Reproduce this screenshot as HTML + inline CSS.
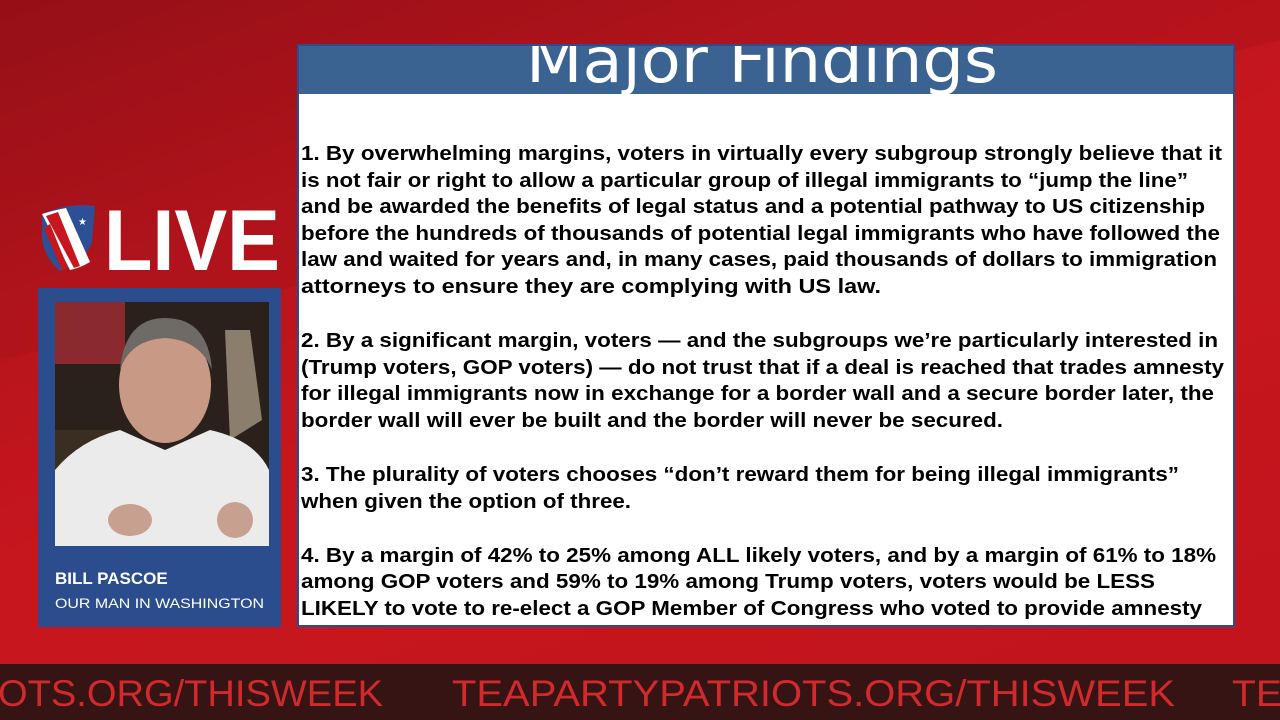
<!DOCTYPE html>
<html><head><meta charset="utf-8"><style>
html,body{margin:0;padding:0;width:1280px;height:720px;overflow:hidden;font-family:"Liberation Sans",sans-serif}
#bg{position:absolute;left:0;top:0;width:1280px;height:720px;background:linear-gradient(160deg,#8e0f16 0%,#b5141c 25%,#c8161e 50%,#c0141c 100%)}
</style></head><body>
<div id="bg"></div>
<svg width="1280" height="720" style="position:absolute;left:0;top:0">
  <polygon points="0,0 1280,0 1280,40 0,360" fill="#a3111a" opacity="0.35"/>
  <!-- shield -->
  <g>
    <path d="M42,214 Q70,202 95,206 L92,242 Q85,262 60,271 Q45,258 42,240 Z" fill="#2c4f96"/>
    <path d="M42,214 Q55,210 66,208 L90,262 Q80,268 70,270 Z" fill="#fff"/>
    <path d="M46,216 L58,212 L80,266 L74,268 Z M44,228 L50,224 L68,268 L62,270 Z" fill="#c8161e"/>
    <text x="78" y="225" font-size="10" fill="#fff">★</text><text x="70" y="238" font-size="8" fill="#fff">★</text>
  </g>
  <text x="104" y="270" font-family="Liberation Sans" font-weight="bold" font-size="86" fill="#fff" textLength="176" lengthAdjust="spacingAndGlyphs">LIVE</text>
  <!-- presenter card -->
  <rect x="38" y="288" width="243" height="339" fill="#2b4d8e"/>
  <g>
    <rect x="55" y="302" width="214" height="244" fill="#2a211c"/>
    <rect x="55" y="302" width="70" height="62" fill="#8a2a2e"/>
    <rect x="55" y="430" width="60" height="50" fill="#3a2e22"/>
    <path d="M225,330 L250,330 L262,420 L230,440 Z" fill="#8c7e6c"/>
    <ellipse cx="165" cy="385" rx="46" ry="58" fill="#c89a86"/>
    <path d="M120,370 Q125,318 165,318 Q208,318 212,370 Q200,340 165,338 Q130,340 120,370Z" fill="#6e6a66"/>
    <path d="M55,470 Q80,440 120,430 L165,450 L210,430 Q255,440 269,470 L269,546 L55,546 Z" fill="#ecebeb"/>
    <ellipse cx="130" cy="520" rx="22" ry="16" fill="#c8a090"/>
    <ellipse cx="235" cy="520" rx="18" ry="18" fill="#c8a090"/>
  </g>
  <text x="55" y="584" font-weight="bold" font-size="17" fill="#fff">BILL PASCOE</text>
  <text x="55" y="608" font-size="13.5" fill="#fff" textLength="209" lengthAdjust="spacingAndGlyphs">OUR MAN IN WASHINGTON</text>
  <!-- slide -->
  <rect x="297" y="44" width="938" height="583" fill="#2b4d8e"/>
  <rect x="299" y="46" width="934" height="579" fill="#fff"/>
  <rect x="299" y="46" width="934" height="48" fill="#3b6391"/>
  <svg x="299" y="46" width="934" height="48" overflow="hidden">
    <text x="463" y="36" text-anchor="middle" font-size="62" fill="#fff" textLength="472" lengthAdjust="spacingAndGlyphs" font-family="DejaVu Sans">Major Findings</text>
  </svg>
  <g font-weight="bold" font-size="20.5" fill="#000">
    <text x="301" y="160" textLength="921" lengthAdjust="spacingAndGlyphs">1. By overwhelming margins, voters in virtually every subgroup strongly believe that it</text>
    <text x="301" y="187" textLength="887" lengthAdjust="spacingAndGlyphs">is not fair or right to allow a particular group of illegal immigrants to “jump the line”</text>
    <text x="301" y="213" textLength="904" lengthAdjust="spacingAndGlyphs">and be awarded the benefits of legal status and a potential pathway to US citizenship</text>
    <text x="301" y="240" textLength="919" lengthAdjust="spacingAndGlyphs">before the hundreds of thousands of potential legal immigrants who have followed the</text>
    <text x="301" y="266" textLength="916" lengthAdjust="spacingAndGlyphs">law and waited for years and, in many cases, paid thousands of dollars to immigration</text>
    <text x="301" y="293" textLength="580" lengthAdjust="spacingAndGlyphs">attorneys to ensure they are complying with US law.</text>
    <text x="301" y="347" textLength="917" lengthAdjust="spacingAndGlyphs">2. By a significant margin, voters — and the subgroups we’re particularly interested in</text>
    <text x="301" y="374" textLength="923" lengthAdjust="spacingAndGlyphs">(Trump voters, GOP voters) — do not trust that if a deal is reached that trades amnesty</text>
    <text x="301" y="400" textLength="913" lengthAdjust="spacingAndGlyphs">for illegal immigrants now in exchange for a border wall and a secure border later, the</text>
    <text x="301" y="427" textLength="702" lengthAdjust="spacingAndGlyphs">border wall will ever be built and the border will never be secured.</text>
    <text x="301" y="481" textLength="878" lengthAdjust="spacingAndGlyphs">3. The plurality of voters chooses “don’t reward them for being illegal immigrants”</text>
    <text x="301" y="508" textLength="330" lengthAdjust="spacingAndGlyphs">when given the option of three.</text>
    <text x="301" y="562" textLength="915" lengthAdjust="spacingAndGlyphs">4. By a margin of 42% to 25% among ALL likely voters, and by a margin of 61% to 18%</text>
    <text x="301" y="588" textLength="854" lengthAdjust="spacingAndGlyphs">among GOP voters and 59% to 19% among Trump voters, voters would be LESS</text>
    <text x="301" y="615" textLength="901" lengthAdjust="spacingAndGlyphs">LIKELY to vote to re-elect a GOP Member of Congress who voted to provide amnesty</text>
  </g>
  <!-- ticker -->
  <rect x="0" y="664" width="1280" height="56" fill="#361414"/>
  <g font-size="37" fill="#d22a2c">
    <text x="-2" y="706" textLength="385" lengthAdjust="spacingAndGlyphs">OTS.ORG/THISWEEK</text>
    <text x="452" y="706" textLength="723" lengthAdjust="spacingAndGlyphs">TEAPARTYPATRIOTS.ORG/THISWEEK</text>
    <text x="1232" y="706" textLength="50" lengthAdjust="spacingAndGlyphs">TE</text>
  </g>
</svg>
</body></html>
